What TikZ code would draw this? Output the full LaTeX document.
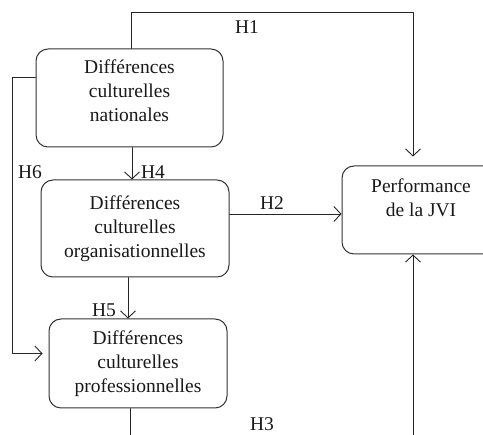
\documentclass[tikz,border=0pt]{standalone}
\usepackage{fontspec}
\setmainfont{Liberation Serif}
\usetikzlibrary{arrows.meta}
\begin{document}
\begin{tikzpicture}[x=1pt,y=-1pt,line cap=round,line join=round,
    every node/.style={font=\fontsize{19.5}{24}\selectfont,text=black!90},
    box/.style={draw=black!80,line width=1pt,rounded corners=12pt,align=center,inner sep=0pt},
    arr/.style={draw=black!85,line width=0.9pt,-{Straight Barb[length=7pt,width=15pt]}},
    link/.style={draw=black!85,line width=0.9pt}]
  \clip (0,0) rectangle (483,435);
  \node[box,minimum width=187,minimum height=98,text depth=14pt] (nat) at (129.5,98) {Différences\\culturelles\\nationales};
  \node[box,minimum width=188,minimum height=97] (org) at (135,228.5) {Différences\\culturelles\\organisationnelles};
  \node[box,minimum width=178,minimum height=89] (prof) at (138,363.5) {Différences\\culturelles\\professionnelles};
  \node[box,minimum width=158,minimum height=88,text depth=25pt] (perf) at (421,210) {Performance\\de la JVI};

  \coordinate (top) at (413,12);
  \coordinate (botL) at (130,435);
  \coordinate (botR) at (413,435);
  \coordinate (h2) at ([yshift=14.5]org.east);
  \coordinate (h4) at ([xshift=2.5]nat.south);
  \coordinate (h5) at ([xshift=-7]org.south);

  \draw[arr] ([xshift=2]nat.north) |- (top) -- ([xshift=-8,yshift=9]perf.north);
  \draw[arr] (h2) -- (h2 -| perf.west);
  \draw[link] (botL |- prof.south) -- (botL);
  \draw[arr] (botR) -- (botR |- perf.south);
  \draw[arr] (h4) -- (h4 |- org.north);
  \draw[arr] (h5) -- (h5 |- prof.north);
  \draw[arr] ([yshift=21]nat.west) -- ++(-23,0) |- ([xshift=-6,yshift=10]prof.west);

  \node (l1) at (247,27) {H1};
  \node (l2) at (272,203) {H2};
  \node (l3) at (262,424) {H3};
  \node (l4) at (153,172) {H4};
  \node (l5) at (104,310) {H5};
  \node (l6) at (30,172) {H6};
\end{tikzpicture}
\end{document}
